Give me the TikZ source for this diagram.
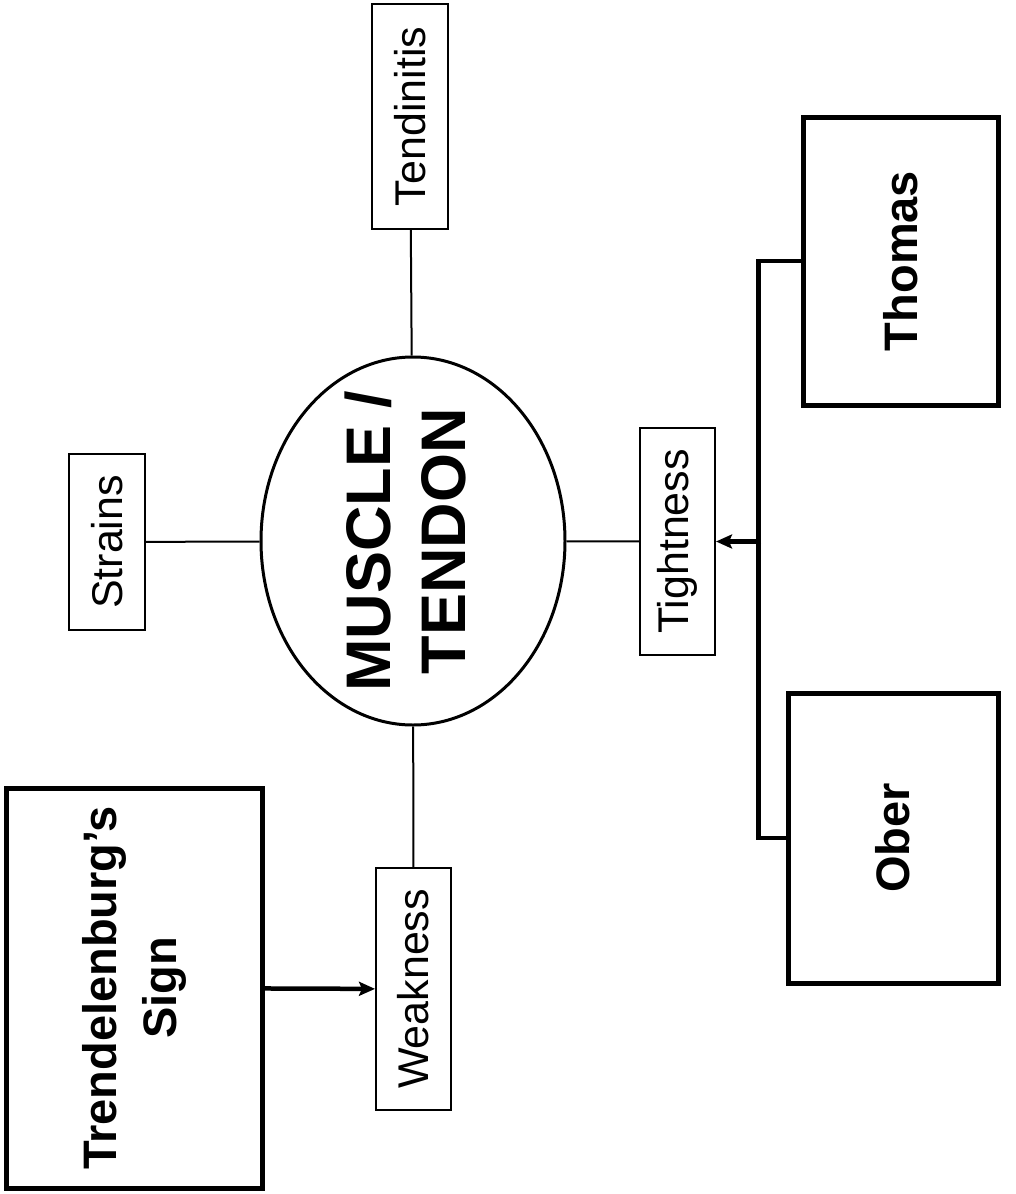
\documentclass[tikz,border=0pt]{standalone}
\usepackage{fontspec}
\setmainfont{Liberation Sans}
\usetikzlibrary{shapes.geometric,arrows.meta}
\newcommand{\vtext}[1]{\rotatebox{90}{\begin{tabular}{@{}c@{}}#1\end{tabular}}}

\begin{document}
\begin{tikzpicture}[x=1pt,y=-1pt,
    finding/.style={draw,line width=2pt,inner sep=0pt,font=\fontsize{43}{51}\selectfont},
    exam/.style={draw,line width=5pt,inner sep=0pt,font=\fontsize{47}{60}\selectfont\bfseries},
    spoke/.style={line width=2pt},
    link/.style={line width=4.5pt,-{Stealth[length=16pt,width=14pt,inset=3pt]}}]
\useasboundingbox (0,0) rectangle (1015,1194);
% centre
\node[ellipse,draw,line width=3pt,minimum width=304pt,minimum height=368pt,inner sep=0pt] (core) at (413,541) {};
\node[font=\fontsize{63}{75}\selectfont\bfseries] (coretext) at (core.center) {\vtext{MUSCLE /\\TENDON}};
% findings
\node[finding,minimum width=76pt,minimum height=176pt] (strains) at (107,542) {\rotatebox{90}{Strains}};
\node[finding,minimum width=76pt,minimum height=225pt] (tend) at (410,116.5) {\rotatebox{90}{Tendinitis}};
\node[finding,minimum width=75pt,minimum height=227pt] (tight) at (677.5,541.5) {\rotatebox{90}{Tightness}};
\node[finding,minimum width=75pt,minimum height=242pt] (weak) at (413.5,989) {\rotatebox{90}{Weakness}};
% tests
\node[exam,minimum width=256pt,minimum height=400pt] (trend) at (134,988) {\vtext{Trendelenburg’s\\Sign}};
\node[exam,minimum width=195pt,minimum height=288pt] (thomas) at (900.5,261) {\rotatebox{90}{Thomas}};
\node[exam,minimum width=210pt,minimum height=290pt] (ober) at (893,838) {\rotatebox{90}{Ober}};

\draw[spoke] (strains) -- (core);
\draw[spoke] (tend) -- (core);
\draw[spoke] (core) -- (tight);
\draw[spoke] (core) -- (weak);

\draw[link] (trend) -- (weak);
\draw[line width=4.5pt] (thomas.west) -- ++(-42,0) |- (ober.west);
\coordinate (spine) at (761,541.5);
\draw[link] (spine) -- (tight);
\end{tikzpicture}
\end{document}
